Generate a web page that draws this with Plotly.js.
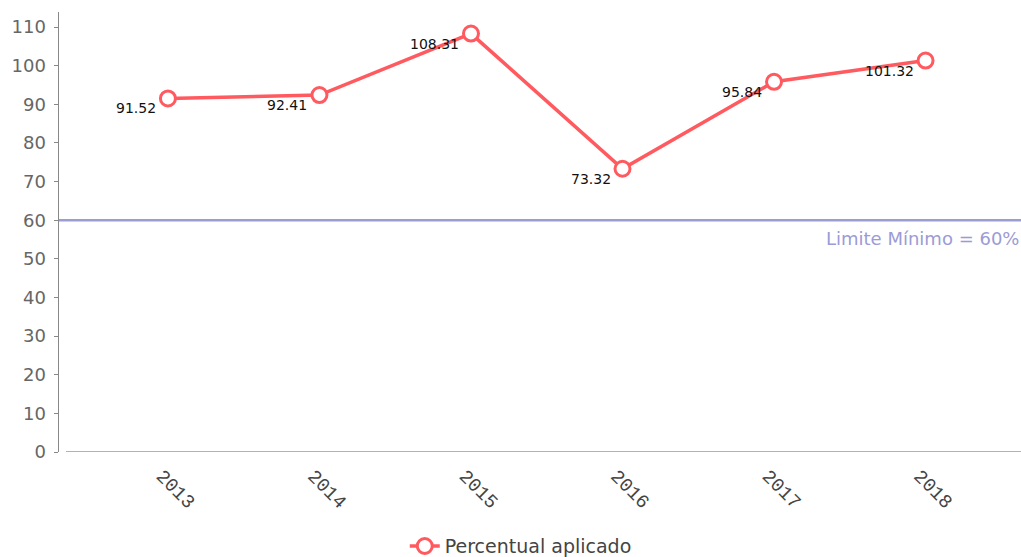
<!DOCTYPE html>
<html>
<head>
<meta charset="utf-8">
<script src="https://cdn.plot.ly/plotly-3.0.1.min.js"></script>
<style>html,body{margin:0;padding:0;background:#fff;}#chart{width:1021px;height:557px;}</style>
</head>
<body>
<div id="chart"></div>
<script>
const years = ["2013", "2014", "2015", "2016", "2017", "2018"];
const percentual = [91.52, 92.41, 108.31, 73.32, 95.84, 101.32];
const seriesName = "Percentual aplicado";
const limitValue = 60;
const limitLabel = "Limite Mínimo = 60%";
const yTicks = [0, 10, 20, 30, 40, 50, 60, 70, 80, 90, 100, 110];

const trace = {
  x: years,
  y: percentual,
  type: "scatter",
  mode: "lines+markers",
  name: seriesName,
  line: {color: "#ff5a5f", width: 3.5},
  marker: {symbol: "circle", size: 15, color: "#ffffff", line: {color: "#ff5a5f", width: 3}},
  cliponaxis: false
};

// category index positions on the category axis
const valueLabels = years.map((yr, i) => ({
  xref: "x", yref: "y", x: i, y: percentual[i],
  text: percentual[i].toFixed(2), showarrow: false,
  xanchor: "right", yanchor: "middle", xshift: -10, yshift: -10,
  font: {family: "DejaVu Sans, Arial, sans-serif", size: 14, color: "#111"}
}));

const layout = {
  width: 1021, height: 557,
  margin: {l: 59, r: 0, t: 12, b: 105, autoexpand: false},
  paper_bgcolor: "#fff", plot_bgcolor: "#fff",
  showlegend: true,
  legend: {orientation: "h", x: 0.48, xanchor: "center", y: -0.214, yanchor: "middle",
           font: {family: "DejaVu Sans, Arial, sans-serif", size: 19, color: "#444"}},
  xaxis: {
    type: "category", range: [-0.719, 5.63], showgrid: false, zeroline: false, showline: false,
    automargin: false,
    tickangle: 45, ticks: "", ticklabelstandoff: 8, ticklabelshift: -6,
    tickfont: {family: "Liberation Mono, DejaVu Sans Mono, monospace", size: 19, color: "#444"}
  },
  yaxis: {
    range: [0, 113.9], tickvals: yTicks, showgrid: false, zeroline: false, automargin: false,
    showline: true, linecolor: "#888", linewidth: 1.5, ticks: "outside", ticklen: 4, tickcolor: "#888",
    ticklabelstandoff: 4,
    tickfont: {family: "DejaVu Sans, Arial, sans-serif", size: 18, color: "#666"}
  },
  shapes: [
    {type: "line", xref: "x", yref: "y", x0: -0.673, x1: 5.63, y0: 0, y1: 0, line: {color: "#999", width: 1.5}},
    {type: "line", xref: "paper", yref: "y", x0: 0, x1: 1, y0: limitValue, y1: limitValue, line: {color: "#9b9bd6", width: 2.5}}
  ],
  annotations: valueLabels.concat([
    {xref: "paper", yref: "y", x: 1, y: limitValue, xanchor: "right", yanchor: "middle", yshift: -18,
     text: limitLabel, showarrow: false,
     font: {family: "DejaVu Sans, Arial, sans-serif", size: 18, color: "#9b9bd6"}}
  ])
};

Plotly.newPlot("chart", [trace], layout, {displayModeBar: false, staticPlot: true});
</script>
</body>
</html>
